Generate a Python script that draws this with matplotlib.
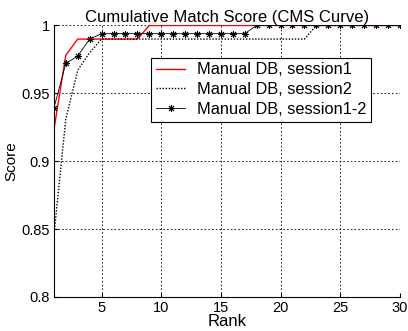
import numpy as np
import matplotlib
matplotlib.use('Agg')
import matplotlib.pyplot as plt

plt.rcParams['font.family'] = ['Liberation Sans', 'DejaVu Sans']

# dane
rank = list(range(1, 31))
session1 = [0.923, 0.978, 0.99, 0.99, 0.99, 0.99, 0.99, 0.99] + [1.0] * 22
session2 = [0.845, 0.931, 0.967, 0.98, 0.99] + [0.99] * 17 + [1.0] * 8
session12 = [0.939, 0.972, 0.9775, 0.99] + [0.994] * 13 + [1.0] * 13
labels = ['Manual DB, session1', 'Manual DB, session2', 'Manual DB, session1-2']

fig = plt.figure(figsize=(4.08, 3.31), dpi=100)
ax = fig.add_axes([0.132, 0.103, 0.848, 0.820])

ax.plot(rank, session1, color='red', lw=1.0, label=labels[0])
ax.plot(rank, session2, color='black', lw=1.0, ls=(0, (1, 1.2)), label=labels[1])
ax.plot(rank, session12, color='black', lw=0.6, marker=(8, 2, 0), ms=5,
        mew=0.7, label=labels[2])

ax.set_xlim(1, 30)
ax.set_ylim(0.8, 1.0)
ax.set_xticks([5, 10, 15, 20, 25, 30])
ax.set_yticks([0.8, 0.85, 0.9, 0.95, 1.0])
ax.set_yticklabels(['0.8', '0.85', '0.9', '0.95', '1'])
ax.grid(True, ls=(0, (2, 2.5)), color='black', lw=0.6)
ax.spines['top'].set_visible(False)
ax.spines['right'].set_visible(False)
ax.tick_params(direction='in', labelsize=10.5, length=3, pad=3)

ax.set_title('Cumulative Match Score (CMS Curve)', fontsize=12, pad=2)
ax.set_xlabel('Rank', fontsize=12, labelpad=-0.5)
ax.set_ylabel('Score', fontsize=11, labelpad=2)

leg = ax.legend(loc='upper left', bbox_to_anchor=(0.281, 0.882), fontsize=11.8,
                fancybox=False, framealpha=1, edgecolor='black',
                handlelength=1.8, borderpad=0.3, labelspacing=0.28,
                handletextpad=0.7, borderaxespad=0)
leg.get_frame().set_linewidth(0.8)

plt.savefig('out.png', dpi=100)
